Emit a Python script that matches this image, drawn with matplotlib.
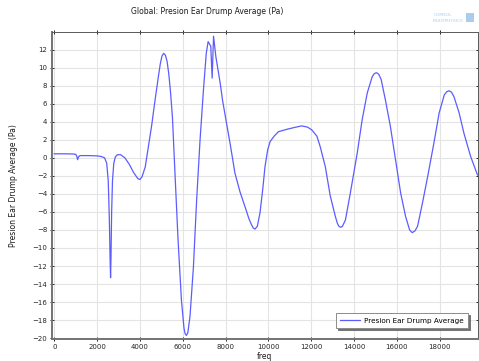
import matplotlib
matplotlib.use("Agg")
import matplotlib.pyplot as plt
from matplotlib.patches import Rectangle

# frequency sweep (Hz) and averaged pressure on the ear drum (Pa)
freq = [0, 500, 900, 1000, 1050, 1090, 1130, 1200, 1600, 2000, 2200, 2350,
        2450, 2520, 2570, 2610, 2630, 2650, 2680, 2720, 2780, 2850, 2950,
        3100, 3300, 3500, 3700, 3900, 4000, 4100, 4250, 4374, 4550, 4690,
        4850, 4950, 5030, 5110, 5190, 5270, 5350, 5430, 5520, 5625, 5780,
        5940, 6060, 6110, 6174, 6240, 6340, 6500, 6650, 6810, 6970, 7100,
        7187, 7310, 7375, 7440, 7550, 7750, 7860, 8050, 8220, 8440, 8680,
        8907, 9100, 9220, 9300, 9376, 9485, 9610, 9735, 9845, 9970, 10080,
        10280, 10470, 10880, 11270, 11565, 11840, 12030, 12270, 12420, 12660,
        12890, 13130, 13230, 13300, 13380, 13460, 13600, 13830, 14150, 14380,
        14620, 14850, 14950, 15050, 15150, 15270, 15470, 15700, 15940, 16180,
        16410, 16600, 16720, 16850, 16970, 17200, 17440, 17730, 17980, 18220,
        18340, 18440, 18550, 18670, 18910, 19140, 19450, 19770]
pressure = [0.45, 0.45, 0.43, 0.4, 0.2, -0.2, 0.1, 0.25, 0.25, 0.22, 0.15, 0.0,
            -0.6, -2.5, -6.5, -11.5, -13.3, -11.0, -6.0, -2.5, -0.6, 0.1, 0.35,
            0.35, 0.0, -0.7, -1.6, -2.3, -2.4, -2.1, -1.0, 0.9, 3.6, 6.1,
            8.8, 10.4, 11.3, 11.6, 11.4, 10.7, 9.3, 7.3, 4.5, -1.0, -9.0,
            -15.8, -18.9, -19.5, -19.7, -19.4, -17.6, -12.1, -4.7, 2.0, 7.6, 11.6,
            12.9, 12.4, 8.85, 13.5, 11.2, 8.3, 6.4, 3.8, 1.5, -1.7, -3.8,
            -5.4, -6.8, -7.45, -7.8, -7.9, -7.6, -6.1, -3.55, -0.96, 0.9, 1.8,
            2.44, 2.9, 3.18, 3.4, 3.55, 3.4, 3.1, 2.4, 1.26, -0.96,
            -4.2, -6.5, -7.3, -7.6, -7.7, -7.6, -6.9, -3.9, 0.5, 4.2,
            7.2, 9.0, 9.35, 9.45, 9.3, 8.7, 6.4, 3.5, -0.2, -3.9,
            -6.5, -8.0, -8.3, -8.1, -7.6, -5.0, -2.1, 1.6, 5.0, 7.0,
            7.35, 7.45, 7.3, 6.8, 5.0, 2.7, 0.15, -1.9]

xticks = list(range(0, 18001, 2000))
yticks = list(range(-20, 13, 2))

W, H = 479, 361
fig = plt.figure(figsize=(W / 100, H / 100), dpi=100)
ax = fig.add_axes([51.7 / W, 1 - 339 / H, (477.5 - 51.7) / W, (339 - 31.7) / H])

line_col = "#5c5cff"
ax.plot(freq, pressure, color=line_col, lw=0.9, label="Presion Ear Drump Average")

ax.set_xlim(-120, 19770)
ax.set_ylim(-20.1, 14.0)
ax.set_xticks(xticks)
ax.set_yticks(yticks)
ax.grid(True, color="#e4e4e4", lw=0.8)
ax.set_axisbelow(True)

ax.tick_params(axis="both", labelsize=5, colors="0.15", length=2.5, width=0.7, pad=2)
ax.tick_params(axis="x", top=True, direction="inout")
ax.tick_params(axis="y", right=True, direction="inout")
for side in ["top", "right"]:
    ax.spines[side].set_color("0.35")
    ax.spines[side].set_linewidth(0.7)
for side in ["left", "bottom"]:
    ax.spines[side].set_color("0.45")
    ax.spines[side].set_linewidth(1.4)

ax.set_xlabel("freq", fontsize=5.5, color="0.1", labelpad=2)
ax.set_ylabel("Presion Ear Drump Average (Pa)", fontsize=5.5, color="0.1", labelpad=10)

fig.text(207.5 / W, 1 - 12 / H, "Global: Presion Ear Drump Average (Pa)",
         ha="center", va="center", fontsize=5.5, color="0.1")

# logo in the corner
logo_col = "#a9cdeb"
fig.text(452 / W, 1 - 15 / H, "COMSOL", ha="right", va="center", fontsize=3.2, color=logo_col)
fig.text(463 / W, 1 - 21 / H, "MULTIPHYSICS", ha="right", va="center", fontsize=3.2, color=logo_col)
fig.patches.append(Rectangle((466 / W, 1 - 22 / H), 8 / W, 9 / H, transform=fig.transFigure,
                             facecolor="#8fbde6", edgecolor="none", alpha=0.75))

leg = ax.legend(loc="lower right", bbox_to_anchor=(468 / W, 1 - 328 / H),
                bbox_transform=fig.transFigure, borderaxespad=0, fontsize=5.2,
                fancybox=False, shadow={"color": "0.45", "alpha": 1.0, "ox": 1.5, "oy": -1.5},
                handlelength=2.8, borderpad=0.6, handletextpad=0.5)
leg.get_frame().set_edgecolor("0.55")
leg.get_frame().set_linewidth(0.7)

fig.savefig("out.png", dpi=100)
